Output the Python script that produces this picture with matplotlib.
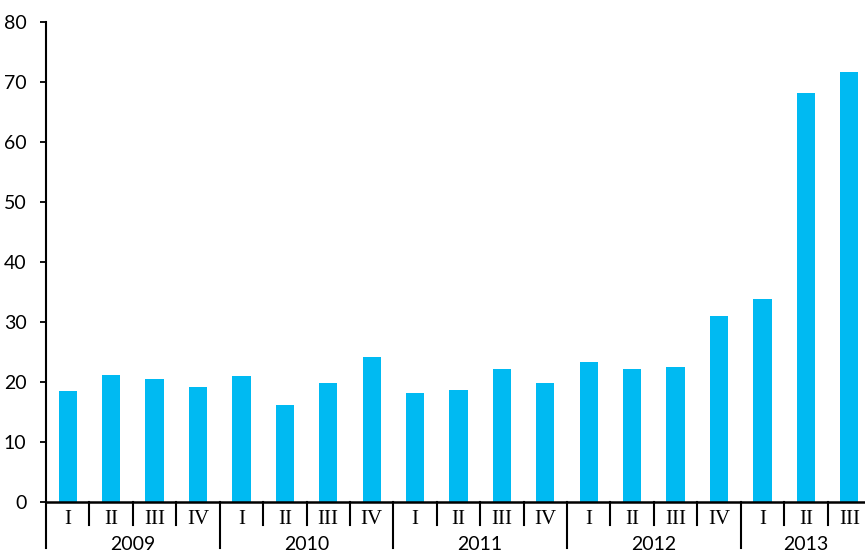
import numpy as np
import matplotlib
matplotlib.use("Agg")
import matplotlib.pyplot as plt
from matplotlib.transforms import blended_transform_factory

years = ["2009", "2010", "2011", "2012", "2013"]
quarters_per_year = [4, 4, 4, 4, 3]
quarter_names = ["I", "II", "III", "IV"]
values = [18.5, 21.2, 20.5, 19.2,
          21.0, 16.2, 19.8, 24.2,
          18.2, 18.7, 22.2, 19.8,
          23.3, 22.2, 22.5, 31.0,
          33.8, 68.2, 71.7]

bar_color = "#00BAF2"
sans = ["Lato", "DejaVu Sans"]
serif = ["Liberation Serif", "DejaVu Serif"]

fig = plt.figure(figsize=(8.65, 5.53), dpi=100)
ax = fig.add_axes([46 / 865, 51 / 553, (19 * 43.42) / 865, 480 / 553])

x = np.arange(len(values))
ax.bar(x, values, width=0.42, color=bar_color)

ax.set_xlim(-0.5, len(values) - 0.5)
ax.set_ylim(0, 80)
ax.set_yticks(range(0, 81, 10))
ax.set_xticks([])
for lab in ax.get_yticklabels():
    lab.set_family(sans)
    lab.set_fontsize(14)
ax.tick_params(axis="y", length=4, width=1.3, pad=10)

for side in ["top", "right"]:
    ax.spines[side].set_visible(False)
ax.spines["left"].set_linewidth(1.5)
ax.spines["bottom"].set_linewidth(1.8)

# two-level category axis: quarters then years
trans = blended_transform_factory(ax.transData, ax.transAxes)
short = -23 / 480
long_ = -46 / 480
pos = 0
for yr, nq in zip(years, quarters_per_year):
    ax.plot([pos - 0.5, pos - 0.5], [0, long_], transform=trans,
            color="black", lw=1.5, clip_on=False)
    for q in range(nq):
        i = pos + q
        if q > 0:
            ax.plot([i - 0.5, i - 0.5], [0, short], transform=trans,
                    color="black", lw=1.5, clip_on=False)
        ax.text(i, -17 / 480, quarter_names[q], transform=trans,
                ha="center", va="center", fontsize=15, family=serif)
    ax.text(pos + (nq - 1) / 2, -43 / 480, yr, transform=trans,
            ha="center", va="center", fontsize=14, family=sans)
    pos += nq

fig.savefig("out.png", dpi=100)
